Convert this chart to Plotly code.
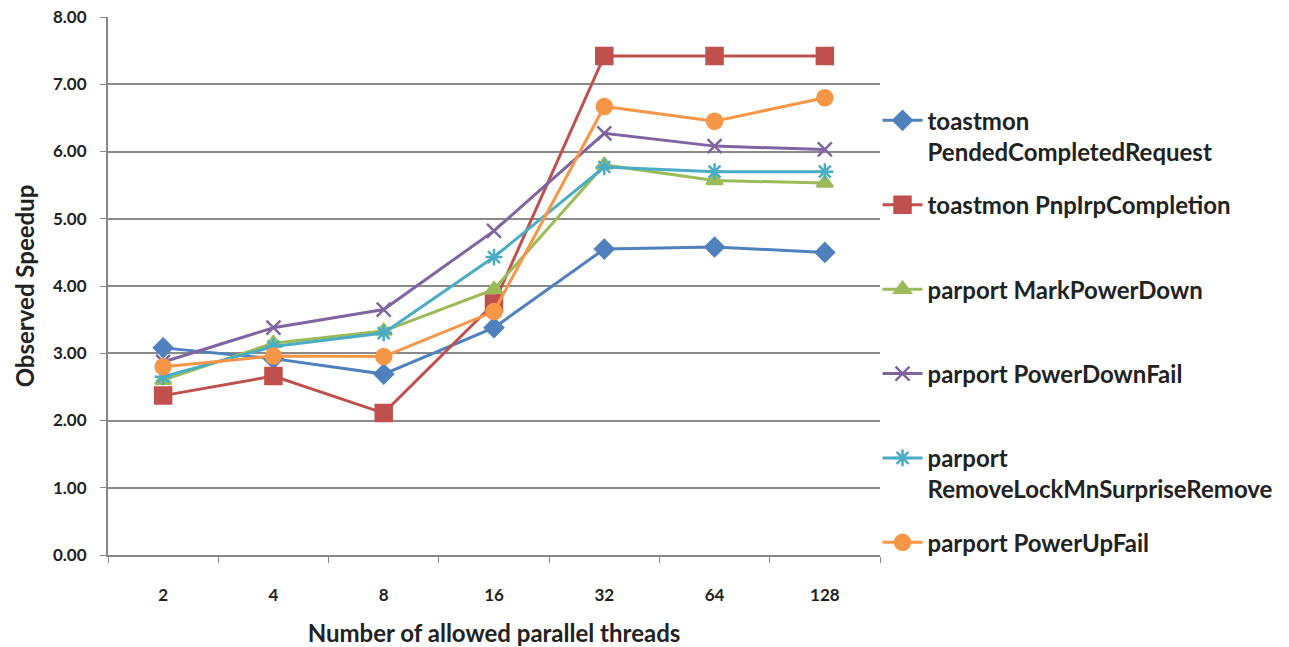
import plotly.graph_objects as go

threads = ["2", "4", "8", "16", "32", "64", "128"]
names = [
    "toastmon<br>PendedCompletedRequest",
    "toastmon PnpIrpCompletion<br> ",
    "parport MarkPowerDown<br> ",
    "parport PowerDownFail<br> ",
    "parport<br>RemoveLockMnSurpriseRemove",
    "parport PowerUpFail<br> ",
]
pended = [3.08, 2.92, 2.69, 3.38, 4.55, 4.58, 4.50]
pnp = [2.37, 2.66, 2.11, 3.74, 7.42, 7.42, 7.42]
markpd = [2.60, 3.15, 3.33, 3.95, 5.80, 5.57, 5.53]
pdfail = [2.87, 3.38, 3.65, 4.82, 6.27, 6.08, 6.03]
removelock = [2.65, 3.10, 3.30, 4.43, 5.77, 5.70, 5.70]
pufail = [2.80, 2.96, 2.95, 3.62, 6.67, 6.45, 6.80]
yticks = [0, 1, 2, 3, 4, 5, 6, 7, 8]

series = [pended, pnp, markpd, pdfail, removelock, pufail]
colors = ["#4F81BD", "#C0504D", "#9BBB59", "#8064A2", "#4BACC6", "#F79646"]
symbols = ["diamond", "square", "triangle-up", "x-thin-open", "asterisk-open", "circle"]
sizes = [14, 16, 14, 14, 14, 15]

fig = go.Figure()
for i, (vals, nm) in enumerate(zip(series, names)):
    fig.add_trace(go.Scatter(
        x=threads, y=vals, name=nm, mode="lines+markers",
        line=dict(color=colors[i], width=3),
        marker=dict(symbol=symbols[i], size=sizes[i], color=colors[i],
                    line=dict(color=colors[i], width=2.5)),
        legendgroup=str(i),
    ))

font_family = "Lato, 'Open Sans', sans-serif"
fig.update_layout(
    width=1289, height=647,
    margin=dict(l=100, r=417, t=9, b=100, autoexpand=False),
    paper_bgcolor="white", plot_bgcolor="white",
    font=dict(family=font_family, color="#222222"),
    showlegend=True,
    legend=dict(
        x=0.9968, y=0.849, xanchor="left", yanchor="top",
        font=dict(size=24, family=font_family, color="#222222", weight="bold"),
        tracegroupgap=19, valign="top", itemwidth=40,
        bgcolor="rgba(0,0,0,0)",
    ),
    xaxis=dict(
        type="category", range=[-0.5, 6.5], automargin=False,
        tickson="boundaries", ticks="outside", ticklen=6, tickcolor="#888888",
        showline=True, linecolor="#888888", linewidth=2,
        showgrid=False, ticklabeloverflow="allow",
        tickfont=dict(size=17, family=font_family, color="#222222", weight="bold"),
        ticklabelstandoff=24,
        title=dict(text="Number of allowed parallel threads",
                   font=dict(size=24, family=font_family, color="#222222", weight="bold"),
                   standoff=21),
    ),
    yaxis=dict(
        range=[0, 8], tickvals=yticks, tickformat=".2f", automargin=False,
        ticks="outside", ticklen=6, tickcolor="#888888",
        showline=True, linecolor="#888888", linewidth=2,
        showgrid=True, gridcolor="#8a8a8a", gridwidth=1.5,
        zeroline=False, ticklabeloverflow="allow",
        tickfont=dict(size=17, family=font_family, color="#222222", weight="bold"),
        ticklabelstandoff=10,
        title=dict(text="Observed Speedup",
                   font=dict(size=24, family=font_family, color="#222222", weight="bold"),
                   standoff=12),
    ),
)

fig.write_html("out.html")
